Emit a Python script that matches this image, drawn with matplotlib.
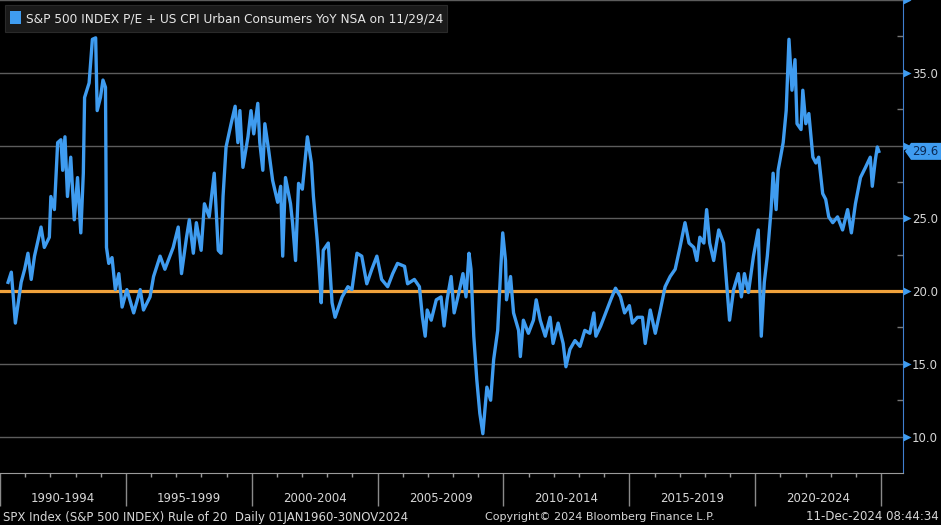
import matplotlib
matplotlib.use("Agg")
import matplotlib.pyplot as plt
import matplotlib.transforms as mtransforms
from matplotlib.patches import Polygon, Rectangle

# S&P 500 P/E + CPI YoY ("Rule of 20")
years = [
    1990.32, 1990.45, 1990.61, 1990.84, 1990.98, 1991.11, 1991.24, 1991.37, 1991.63, 1991.76,
    1991.96, 1992.02, 1992.16, 1992.29, 1992.42, 1992.49, 1992.58, 1992.68, 1992.81, 1992.95,
    1993.08, 1993.21, 1993.31, 1993.36, 1993.54, 1993.67, 1993.80, 1993.86, 1993.99, 1994.09,
    1994.19, 1994.23, 1994.32, 1994.45, 1994.58, 1994.72, 1994.85, 1995.04, 1995.31, 1995.57,
    1995.70, 1995.96, 1996.10, 1996.36, 1996.55, 1996.88, 1997.08, 1997.21, 1997.41, 1997.52,
    1997.68, 1997.80, 1997.99, 1998.12, 1998.31, 1998.51, 1998.67, 1998.78, 1998.86, 1998.98,
    1999.18, 1999.34, 1999.45, 1999.53, 1999.65, 1999.85, 1999.97, 2000.08, 2000.24, 2000.32,
    2000.44, 2000.52, 2000.67, 2000.83, 2001.03, 2001.15, 2001.23, 2001.34, 2001.54, 2001.62,
    2001.74, 2001.86, 2002.01, 2002.13, 2002.21, 2002.37, 2002.45, 2002.60, 2002.68, 2002.76,
    2002.84, 2003.04, 2003.19, 2003.31, 2003.59, 2003.82, 2003.98, 2004.18, 2004.37, 2004.57,
    2004.77, 2004.97, 2005.16, 2005.40, 2005.60, 2005.79, 2006.07, 2006.19, 2006.46, 2006.66,
    2006.78, 2006.89, 2006.97, 2007.13, 2007.33, 2007.52, 2007.64, 2007.76, 2007.92, 2008.04,
    2008.23, 2008.39, 2008.51, 2008.63, 2008.71, 2008.82, 2008.94, 2009.06, 2009.18, 2009.34,
    2009.49, 2009.61, 2009.77, 2009.89, 2009.97, 2010.08, 2010.12, 2010.28, 2010.40, 2010.60,
    2010.67, 2010.79, 2010.99, 2011.19, 2011.30, 2011.46, 2011.66, 2011.85, 2011.97, 2012.17,
    2012.37, 2012.48, 2012.64, 2012.84, 2013.04, 2013.23, 2013.43, 2013.59, 2013.67, 2013.86,
    2014.06, 2014.26, 2014.45, 2014.65, 2014.81, 2015.00, 2015.12, 2015.32, 2015.52, 2015.63,
    2015.83, 2016.03, 2016.23, 2016.42, 2016.62, 2016.82, 2017.01, 2017.21, 2017.37, 2017.56,
    2017.68, 2017.80, 2017.96, 2018.07, 2018.19, 2018.35, 2018.55, 2018.74, 2018.86, 2018.98,
    2019.14, 2019.33, 2019.45, 2019.57, 2019.73, 2019.93, 2020.12, 2020.24, 2020.36, 2020.48,
    2020.63, 2020.71, 2020.83, 2020.91, 2021.11, 2021.23, 2021.34, 2021.46, 2021.58, 2021.66,
    2021.82, 2021.89, 2022.01, 2022.13, 2022.29, 2022.41, 2022.52, 2022.68, 2022.80, 2022.92,
    2023.08, 2023.27, 2023.47, 2023.67, 2023.82, 2023.98, 2024.18, 2024.38, 2024.57, 2024.65,
    2024.77, 2024.85, 2024.91,
]
ratio = [
    20.6, 21.3, 17.8, 20.6, 21.5, 22.6, 20.8, 22.4, 24.4, 23.0,
    23.7, 26.5, 25.6, 30.2, 30.4, 28.3, 30.6, 26.5, 29.2, 24.9,
    27.8, 24.0, 28.1, 33.3, 34.3, 37.3, 37.4, 32.4, 33.3, 34.5,
    34.0, 23.0, 21.9, 22.3, 20.1, 21.2, 18.9, 20.1, 18.5, 20.1,
    18.7, 19.6, 21.0, 22.4, 21.5, 23.0, 24.4, 21.2, 23.7, 24.9,
    22.6, 24.7, 22.8, 26.0, 25.1, 28.1, 22.8, 22.6, 26.5, 29.9,
    31.5, 32.7, 30.2, 32.4, 28.5, 30.6, 32.4, 30.8, 32.9, 30.2,
    28.3, 31.5, 29.7, 27.6, 26.1, 27.2, 22.4, 27.8, 26.0, 24.7,
    22.1, 27.4, 27.0, 29.2, 30.6, 28.8, 26.5, 23.5, 21.5, 19.2,
    22.8, 23.3, 19.2, 18.2, 19.6, 20.3, 20.1, 22.6, 22.4, 20.5,
    21.5, 22.4, 20.8, 20.3, 21.2, 21.9, 21.7, 20.5, 20.8, 20.3,
    18.2, 16.9, 18.7, 18.0, 19.4, 19.6, 17.6, 19.4, 21.0, 18.5,
    19.9, 21.2, 19.6, 22.6, 21.5, 16.9, 13.9, 11.6, 10.2, 13.4,
    12.5, 15.3, 17.3, 21.5, 24.0, 22.1, 19.4, 21.0, 18.5, 17.3,
    15.5, 18.0, 17.1, 18.0, 19.4, 18.0, 16.9, 18.2, 16.4, 17.8,
    16.4, 14.8, 16.0, 16.6, 16.2, 17.3, 17.1, 18.5, 16.9, 17.6,
    18.5, 19.4, 20.2, 19.6, 18.5, 19.0, 17.8, 18.2, 18.2, 16.4,
    18.7, 17.1, 18.7, 20.3, 21.0, 21.5, 23.0, 24.7, 23.3, 23.0,
    22.1, 23.7, 23.3, 25.6, 23.3, 22.1, 24.2, 23.3, 20.6, 18.0,
    20.1, 21.2, 19.6, 21.2, 19.9, 22.4, 24.2, 16.9, 20.6, 22.4,
    25.6, 28.1, 25.6, 28.3, 30.2, 32.4, 37.3, 33.8, 35.9, 31.5,
    31.1, 33.8, 31.5, 32.2, 29.2, 28.8, 29.2, 26.7, 26.3, 25.1,
    24.7, 25.1, 24.2, 25.6, 24.0, 26.0, 27.8, 28.5, 29.2, 27.2,
    29.0, 29.9, 29.6,
]

rule_level = 20.0
last_value = 29.6
period_labels = ["1990-1994", "1995-1999", "2000-2004", "2005-2009",
                 "2010-2014", "2015-2019", "2020-2024"]
period_starts = [1990, 1995, 2000, 2005, 2010, 2015, 2020]
ytick_vals = [10, 15, 20, 25, 30, 35, 40]
ytick_labels = ["10.0", "15.0", "20.0", "25.0", "", "35.0", ""]
yminor_vals = [12.5, 17.5, 22.5, 27.5, 32.5, 37.5]

title = "S&P 500 INDEX P/E + US CPI Urban Consumers YoY NSA on 11/29/24"
footer_left = "SPX Index (S&P 500 INDEX) Rule of 20  Daily 01JAN1960-30NOV2024"
footer_mid = "Copyright\u00a9 2024 Bloomberg Finance L.P."
footer_right = "11-Dec-2024 08:44:34"

blue = "#3f9cf0"
orange = "#f0a23c"
grid_c = "#5c5c5c"
txt_c = "#d6d6d6"

plt.rcParams["font.family"] = ["DejaVu Sans"]

fig = plt.figure(figsize=(9.41, 5.25), dpi=100, facecolor="black")
ax = fig.add_axes([0, 52 / 525, 903 / 941, 473 / 525], facecolor="black")

for v in ytick_vals:
    if v != rule_level:
        ax.axhline(v, color=grid_c, lw=1.0, zorder=1)
ax.axhline(rule_level, color=orange, lw=2.3, zorder=3)
ax.plot(years, ratio, color=blue, lw=2.4, zorder=4)

ax.set_xlim(1990.315, 2025.87)
ax.set_ylim(7.5, 40.0)

# spines
for s in ["left", "top"]:
    ax.spines[s].set_visible(False)
ax.spines["right"].set_color("#3f7fd0")
ax.spines["bottom"].set_color("#9a9a9a")

# y axis on the right
ax.yaxis.tick_right()
ax.set_yticks(ytick_vals)
ax.set_yticklabels(ytick_labels)
ax.set_yticks(yminor_vals, minor=True)
ax.tick_params(axis="y", which="major", length=0, pad=6.5, labelsize=8.5, labelcolor=txt_c)
ax.tick_params(axis="y", which="minor", length=4, direction="in", color="#777777", width=1)
shift = mtransforms.ScaledTranslation(4 / 100, 0, fig.dpi_scale_trans)
ax.plot([1.0] * len(ytick_vals), ytick_vals, ls="none", marker=">", ms=5.5,
        color=blue, mec="none", transform=ax.get_yaxis_transform() + shift,
        clip_on=False, zorder=5)

# x axis: 5-year separators, yearly minor ticks, centred period labels
ax.set_xticks(period_starts + [2025])
ax.set_xticklabels([])
ax.set_xticks(range(1990, 2026), minor=True)
ax.tick_params(axis="x", which="major", length=24, width=1, color="#8a8a8a")
ax.tick_params(axis="x", which="minor", length=3, width=1, color="#9a9a9a")
for lab, start in zip(period_labels, period_starts):
    ax.text(start + 2.5, -0.054, lab, transform=ax.get_xaxis_transform(),
            ha="center", va="center", color=txt_c, fontsize=8.5)

# last value tag
tag_trans = fig.dpi_scale_trans + mtransforms.ScaledTranslation(
    1.0, last_value, ax.get_yaxis_transform())
tag = Polygon([(0.02, 0), (0.08, 0.085), (0.39, 0.085), (0.39, -0.085), (0.08, -0.085)],
              closed=True, fc=blue, ec="none", transform=tag_trans, clip_on=False, zorder=6)
ax.add_patch(tag)
ax.text(0.09, 0, f"{last_value:.1f}", transform=tag_trans, ha="left", va="center",
        color="#0b2a55", fontsize=8.5, zorder=7, clip_on=False)

# legend box
fig.patches.append(Rectangle((5 / 941, 1 - 32 / 525), 442 / 941, 27 / 525,
                             transform=fig.transFigure, fc="#1a1a1a", ec="#2a2a2a", lw=0.8))
fig.patches.append(Rectangle((10 / 941, 1 - 24 / 525), 11 / 941, 13 / 525,
                             transform=fig.transFigure, fc=blue, ec="none"))
fig.text(26 / 941, 1 - 18.5 / 525, title, ha="left", va="center", color="#e6e6e6", fontsize=8.7)

# footer
fy = 8 / 525
fig.text(3 / 941, fy, footer_left, ha="left", va="center", color=txt_c, fontsize=8.5)
fig.text(600 / 941, fy, footer_mid, ha="center", va="center", color=txt_c, fontsize=8)
fig.text(939 / 941, fy, footer_right, ha="right", va="center", color=txt_c, fontsize=8.5)

fig.savefig("out.png", dpi=100, facecolor="black")
